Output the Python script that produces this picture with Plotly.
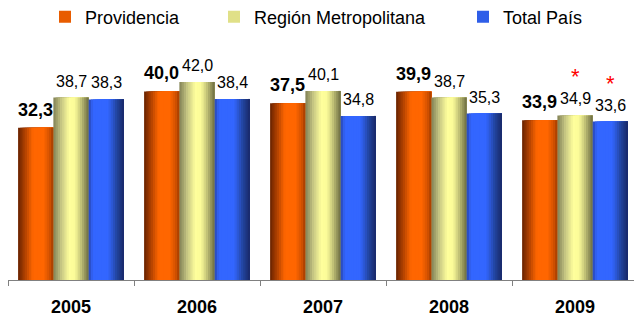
import plotly.graph_objects as go

years = ["2005", "2006", "2007", "2008", "2009"]
series_names = ["Providencia", "Región Metropolitana", "Total País"]
providencia = [32.3, 40.0, 37.5, 39.9, 33.9]
region_metropolitana = [38.7, 42.0, 40.1, 38.7, 34.9]
total_pais = [38.3, 38.4, 34.8, 35.3, 33.6]
labels_prov = ["32,3", "40,0", "37,5", "39,9", "33,9"]
labels_rm = ["38,7", "42,0", "40,1", "38,7", "34,9"]
labels_tp = ["38,3", "38,4", "34,8", "35,3", "33,6"]
asterisk_rm = [False, False, False, False, True]
asterisk_tp = [False, False, False, False, True]

FONT = "Liberation Sans, Arial, sans-serif"
W, H = 634, 316
BAR_W = 0.28
N_SLICES = 16

gradients = [
    [(0.0, (0x66, 0x22, 0x00)), (0.15, (0xa0, 0x3a, 0x00)), (0.42, (0xff, 0x66, 0x00)),
     (0.72, (0xff, 0x66, 0x00)), (0.9, (0xd0, 0x50, 0x00)), (1.0, (0xa0, 0x3c, 0x00))],
    [(0.0, (0x80, 0x80, 0x55)), (0.2, (0xc0, 0xc0, 0x80)), (0.45, (0xff, 0xff, 0x9c)),
     (0.62, (0xfa, 0xfa, 0x98)), (0.85, (0xa8, 0xa8, 0x68)), (1.0, (0x6a, 0x6a, 0x40))],
    [(0.0, (0x28, 0x46, 0xb0)), (0.12, (0x33, 0x66, 0xff)), (0.55, (0x33, 0x66, 0xff)),
     (0.8, (0x22, 0x44, 0x9e)), (1.0, (0x18, 0x28, 0x66))],
]
legend_colors = ["#e85c00", "#e0e088", "#2f5ee8"]


def grad_color(stops, t):
    for (t0, c0), (t1, c1) in zip(stops, stops[1:]):
        if t0 <= t <= t1:
            f = (t - t0) / (t1 - t0) if t1 > t0 else 0
            c = [round(a + (b - a) * f) for a, b in zip(c0, c1)]
            return "rgb({},{},{})".format(*c)
    c = stops[-1][1]
    return "rgb({},{},{})".format(*c)


fig = go.Figure()
all_values = [providencia, region_metropolitana, total_pais]
all_labels = [labels_prov, labels_rm, labels_tp]
legends = ["legend", "legend2", "legend3"]

for s, (name, vals) in enumerate(zip(series_names, all_values)):
    start = -1.5 * BAR_W + s * BAR_W
    for k in range(N_SLICES):
        t = (k + 0.5) / N_SLICES
        fig.add_trace(go.Bar(
            x=years, y=vals,
            offset=start + k * BAR_W / N_SLICES,
            width=BAR_W * (N_SLICES - k) / N_SLICES,
            marker=dict(color=grad_color(gradients[s], t), line=dict(width=0)),
            showlegend=False, hoverinfo="skip",
        ))
    fig.add_trace(go.Bar(
        x=[None], y=[None], name=name,
        marker=dict(color=legend_colors[s], line=dict(width=0)),
        legend=legends[s], showlegend=True,
    ))

annotations = []
for s, labs in enumerate(all_labels):
    center = -BAR_W + s * BAR_W
    for i, (v, lab) in enumerate(zip(all_values[s], labs)):
        annotations.append(dict(
            x=i + center, y=v, xref="x", yref="y", text=lab, showarrow=False,
            yanchor="bottom", yshift=6,
            font=dict(family=FONT, size=18 if s == 0 else 16, color="#000000",
                      weight="bold" if s == 0 else "normal"),
        ))
for s, flags in ((1, asterisk_rm), (2, asterisk_tp)):
    center = -BAR_W + s * BAR_W
    for i, f in enumerate(flags):
        if f:
            annotations.append(dict(
                x=i + center, y=all_values[s][i], xref="x", yref="y", text="*",
                showarrow=False, yanchor="bottom", yshift=24,
                font=dict(family=FONT, size=22, color="#ff0000"),
            ))

legend_common = dict(orientation="h", xref="container", yref="container",
                     yanchor="middle", xanchor="left", bgcolor="rgba(0,0,0,0)",
                     font=dict(family=FONT, size=18, color="#000000"),
                     itemwidth=30)
fig.update_layout(
    width=W, height=H,
    margin=dict(l=8, r=0, t=40, b=36, autoexpand=False),
    paper_bgcolor="white", plot_bgcolor="white",
    barmode="overlay",
    annotations=annotations,
    legend=dict(x=45 / W, y=1 - 17 / H, **legend_common),
    legend2=dict(x=214 / W, y=1 - 17 / H, **legend_common),
    legend3=dict(x=463 / W, y=1 - 17 / H, **legend_common),
    xaxis=dict(
        type="category", tickson="boundaries", ticks="outside", ticklen=5,
        tickcolor="#808080", showline=True, linecolor="#808080", linewidth=1,
        showgrid=False, range=[-0.5, 4.468], automargin=False, ticklabelstandoff=10,
        tickfont=dict(family=FONT, size=18, color="#000000", weight="bold"),
    ),
    yaxis=dict(range=[0, 50.9], visible=False, showgrid=False, zeroline=False,
               automargin=False),
    showlegend=True,
)

fig.write_html("out.html", config={"displayModeBar": False},
               post_script="document.body.style.margin='0';document.body.style.overflow='hidden';")
